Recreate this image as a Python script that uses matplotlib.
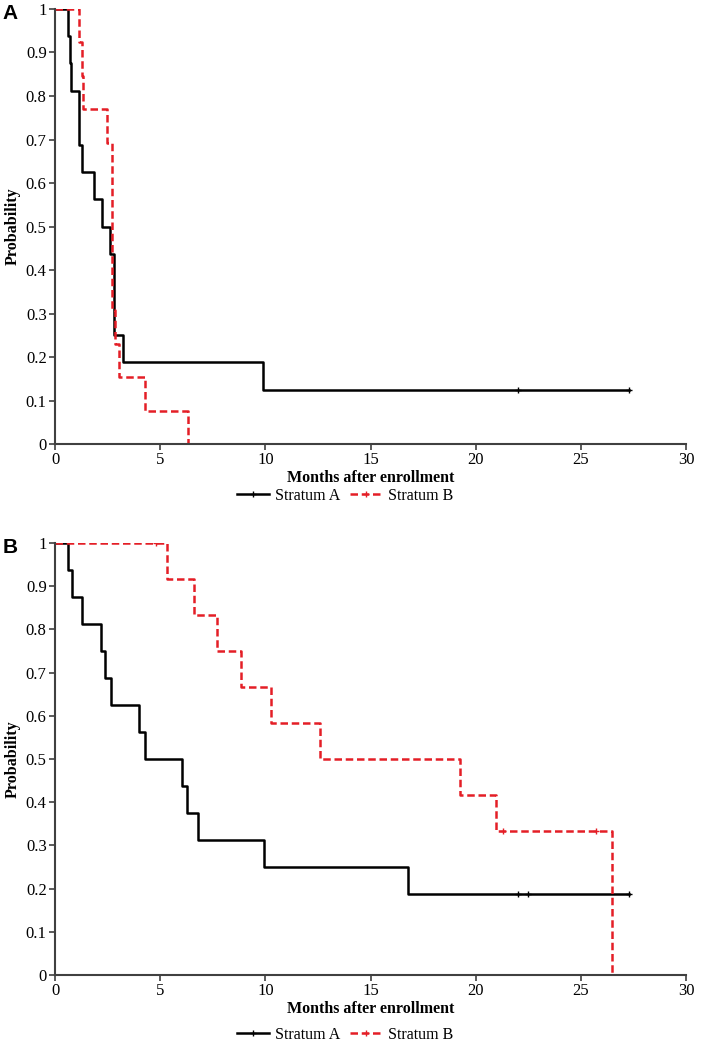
import matplotlib.pyplot as plt
import numpy as np

# panel A: stratum A (black) and stratum B (red)
a_time_A = [0, 0.64, 0.71, 0.78, 1.16, 1.27, 1.86, 2.24, 2.62, 2.81, 3.25, 9.9, 27.3]
a_surv_A = [1, 0.9375, 0.875, 0.8125, 0.6875, 0.625, 0.5625, 0.5, 0.4375, 0.25, 0.1875, 0.125, 0.125]
a_cens_A = [22.0, 27.3]
a_cens_A_y = [0.125, 0.125]

a_time_B = [0, 1.14, 1.26, 1.35, 2.46, 2.7, 2.86, 3.06, 4.3, 6.3]
a_surv_B = [1, 0.923, 0.846, 0.769, 0.692, 0.308, 0.231, 0.154, 0.077, 0]

# panel B
b_time_A = [0, 0.64, 0.8, 1.27, 2.2, 2.4, 2.65, 3.98, 4.27, 6.06, 6.27, 6.8, 9.94, 16.8, 27.3]
b_surv_A = [1, 0.9375, 0.875, 0.8125, 0.75, 0.6875, 0.625, 0.5625, 0.5, 0.4375, 0.375, 0.3125, 0.25, 0.1875, 0.1875]
b_cens_A = [22.0, 22.5, 27.3]
b_cens_A_y = [0.1875, 0.1875, 0.1875]

b_time_B = [0, 5.34, 6.61, 7.69, 8.83, 10.29, 12.6, 19.26, 20.95, 26.5]
b_surv_B = [1, 0.917, 0.833, 0.75, 0.667, 0.583, 0.5, 0.4167, 0.333, 0]
b_cens_B = [4.8, 21.3, 25.7]
b_cens_B_y = [1, 0.333, 0.333]

yticks = [0, 0.1, 0.2, 0.3, 0.4, 0.5, 0.6, 0.7, 0.8, 0.9, 1]
ytick_labels = ['0', '0.1', '0.2', '0.3', '0.4', '0.5', '0.6', '0.7', '0.8', '0.9', '1']
xticks = [0, 5, 10, 15, 20, 25, 30]

plt.rcParams['font.family'] = ['Liberation Serif', 'DejaVu Serif']

fig = plt.figure(figsize=(7.09, 10.46), dpi=100)
ax1 = fig.add_axes([0.0776, 0.5755, 0.89, 0.4159])
ax2 = fig.add_axes([0.0776, 0.0679, 0.89, 0.413])

red = '#e41e26'
panels = [
    (ax1, a_time_A, a_surv_A, a_cens_A, a_cens_A_y, a_time_B, a_surv_B, [], [], 'A', 0.9914 - 5 / 1046, 0.5755 - 52 / 1046),
    (ax2, b_time_A, b_surv_A, b_cens_A, b_cens_A_y, b_time_B, b_surv_B, b_cens_B, b_cens_B_y, 'B', 0.4809 - 5 / 1046, 0.0679 - 60 / 1046),
]
for ax, tA, sA, cA, cAy, tB, sB, cB, cBy, letter, top, leg_y in panels:
    ax.step(tA, sA, where='post', color='black', lw=1.8)
    ax.step(tB, sB, where='post', color=red, lw=1.8, ls=(0, (3, 1.5)))
    ax.plot(cA, cAy, ls='none', marker='+', ms=4, mew=1, color='black')
    if cB:
        ax.plot(cB, cBy, ls='none', marker='+', ms=4, mew=1, color=red)
    # legend proxies
    ax.plot([], [], color='black', lw=1.8, marker='+', ms=4, label='Stratum A')
    ax.plot([], [], color=red, lw=1.8, ls=(0, (3, 1.5)), marker='+', ms=4, label='Stratum B')
    ax.set_xlim(0, 30)
    ax.set_ylim(0, 1)
    ax.set_xticks(xticks)
    ax.set_yticks(yticks)
    ax.set_yticklabels(ytick_labels)
    ax.spines['top'].set_visible(False)
    ax.spines['right'].set_visible(False)
    for s in ['left', 'bottom']:
        ax.spines[s].set_color('#404040')
        ax.spines[s].set_linewidth(1.5)
    ax.tick_params(direction='out', length=4, width=1.2, color='#404040', labelsize=12, pad=2)
    ax.set_xlabel('Months after enrollment', fontweight='bold', fontsize=11.5, labelpad=1)
    ax.set_ylabel('Probability', fontweight='bold', fontsize=11.5, labelpad=4)
    fig.legend(handles=ax.get_lines()[-2:], loc='center', bbox_to_anchor=(0.487, leg_y), ncol=2,
               frameon=False, fontsize=11.5, handlelength=2.0, columnspacing=0.6, handletextpad=0.4)
    fig.text(0.003, top, letter, fontsize=15, fontweight='bold', family='Liberation Sans', va='center')

fig.savefig('out.png', dpi=100)
